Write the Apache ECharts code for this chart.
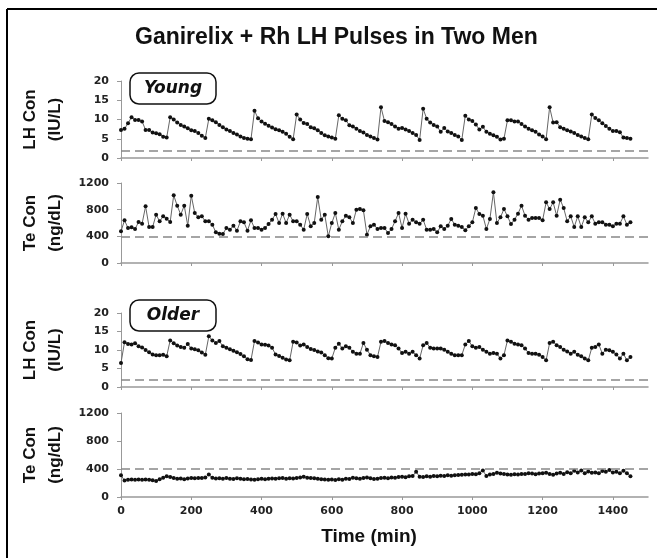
<!DOCTYPE html>
<html>
<head>
<meta charset="utf-8">
<script src="https://cdn.jsdelivr.net/npm/echarts@6/dist/echarts.min.js"></script>
<style>
  html, body { margin: 0; padding: 0; background: #fff; }
  #chart { width: 657px; height: 558px; }
</style>
</head>
<body>
<div id="chart"></div>
<script>
// sampling times (min)
var times = [
  0, 10, 20, 30, 40, 50, 60, 70, 80, 90,
  100, 110, 120, 130, 140, 150, 160, 170, 180, 190,
  200, 210, 220, 230, 240, 250, 260, 270, 280, 290,
  300, 310, 320, 330, 340, 350, 360, 370, 380, 390,
  400, 410, 420, 430, 440, 450, 460, 470, 480, 490,
  500, 510, 520, 530, 540, 550, 560, 570, 580, 590,
  600, 610, 620, 630, 640, 650, 660, 670, 680, 690,
  700, 710, 720, 730, 740, 750, 760, 770, 780, 790,
  800, 810, 820, 830, 840, 850, 860, 870, 880, 890,
  900, 910, 920, 930, 940, 950, 960, 970, 980, 990,
  1000, 1010, 1020, 1030, 1040, 1050, 1060, 1070, 1080, 1090,
  1100, 1110, 1120, 1130, 1140, 1150, 1160, 1170, 1180, 1190,
  1200, 1210, 1220, 1230, 1240, 1250, 1260, 1270, 1280, 1290,
  1300, 1310, 1320, 1330, 1340, 1350, 1360, 1370, 1380, 1390,
  1400, 1410, 1420, 1430, 1440, 1450
];

// young man, LH (IU/L)
var youngLH = [
  7.3, 7.6, 9.0, 10.6, 9.9, 9.9, 9.5, 7.3, 7.3, 6.6,
  6.4, 6.2, 5.5, 5.3, 10.6, 10.0, 9.2, 8.6, 8.2, 7.7,
  7.2, 7.0, 6.5, 5.8, 5.2, 10.2, 9.8, 9.3, 8.6, 8.0,
  7.4, 7.0, 6.5, 6.1, 5.6, 5.2, 5.0, 4.9, 12.3, 10.3,
  9.5, 8.9, 8.4, 7.9, 7.5, 7.2, 6.8, 6.3, 5.5, 4.9,
  11.3, 10.0, 9.1, 8.8, 8.0, 7.7, 7.2, 6.5, 5.9, 5.6,
  5.3, 5.0, 11.1, 10.2, 9.8, 8.5, 8.2, 7.6, 7.0, 6.6,
  6.0, 5.6, 5.2, 4.8, 13.2, 9.6, 9.3, 8.8, 8.2, 7.6,
  7.8, 7.4, 7.0, 6.5, 6.0, 4.7, 12.8, 10.2, 9.2, 8.6,
  8.2, 6.8, 7.8, 6.9, 6.5, 6.0, 5.6, 4.7, 11.0, 10.0,
  9.6, 8.7, 7.4, 8.1, 6.8, 6.3, 5.9, 5.5, 4.8, 5.0,
  9.8, 9.8, 9.5, 9.5, 8.8, 8.2, 7.6, 7.2, 6.8, 6.1,
  5.6, 4.9, 13.2, 9.2, 9.3, 8.0, 7.6, 7.2, 6.9, 6.5,
  6.0, 5.6, 5.2, 4.9, 11.3, 10.4, 9.8, 9.0, 8.3, 7.6,
  7.0, 7.0, 6.7, 5.3, 5.2, 5.0
];

// young man, Te (ng/dL)
var youngTe = [
  475, 640, 525, 535, 510, 615, 590, 850, 540, 540,
  725, 625, 700, 665, 615, 1015, 860, 725, 860, 560,
  1010, 750, 685, 700, 625, 625, 575, 460, 440, 435,
  525, 500, 560, 485, 625, 610, 485, 640, 525, 525,
  500, 525, 585, 650, 735, 600, 740, 600, 725, 625,
  625, 575, 500, 735, 550, 600, 990, 650, 725, 400,
  600, 750, 500, 625, 710, 685, 600, 800, 810, 790,
  425, 550, 575, 510, 525, 525, 450, 510, 625, 750,
  525, 740, 590, 650, 610, 590, 650, 500, 500, 510,
  460, 550, 510, 560, 660, 575, 560, 540, 490, 550,
  610, 825, 735, 710, 510, 660, 1060, 600, 685, 810,
  700, 585, 650, 740, 860, 710, 650, 675, 675, 675,
  640, 910, 810, 910, 710, 950, 825, 625, 700, 540,
  700, 540, 685, 610, 700, 590, 610, 610, 575, 575,
  550, 590, 590, 700, 575, 610
];

// older man, LH (IU/L)
var olderLH = [
  6.5, 12.1, 11.6, 11.5, 11.8, 11.0, 10.7, 10.0, 9.4, 8.8,
  8.6, 8.6, 8.7, 8.3, 12.6, 11.8, 11.2, 10.8, 10.6, 11.6,
  10.4, 10.2, 9.9, 9.3, 8.7, 13.7, 12.6, 11.9, 12.4, 11.0,
  10.6, 10.2, 9.8, 9.4, 8.9, 8.3, 7.5, 7.3, 12.4, 12.0,
  11.5, 11.4, 11.2, 10.6, 8.8, 8.4, 7.9, 7.4, 7.2, 12.2,
  12.0, 11.2, 11.5, 10.8, 10.3, 10.0, 9.6, 9.3, 8.6, 7.8,
  7.7, 10.6, 11.7, 10.4, 11.0, 10.6, 9.5, 9.0, 9.0, 11.9,
  10.1, 8.6, 8.3, 8.1, 12.2, 12.4, 11.9, 11.5, 11.3, 10.4,
  9.2, 9.5, 9.0, 9.5, 8.6, 7.7, 11.3, 11.9, 10.6, 10.4,
  10.4, 10.4, 10.1, 9.5, 9.0, 8.6, 8.6, 8.6, 11.5, 12.4,
  11.0, 10.6, 10.8, 10.1, 9.5, 9.0, 9.2, 9.0, 7.7, 8.6,
  12.6, 12.2, 11.7, 11.5, 11.3, 10.4, 9.2, 9.0, 9.0, 8.7,
  8.1, 7.2, 11.9, 12.2, 11.3, 10.8, 10.1, 9.6, 9.0, 9.5,
  8.7, 8.3, 7.7, 7.2, 10.6, 10.8, 11.5, 9.0, 10.1, 9.9,
  9.5, 8.8, 7.7, 9.0, 7.2, 8.1
];

// older man, Te (ng/dL)
var olderTe = [
  310, 235, 245, 250, 245, 250, 245, 250, 245, 240,
  230, 255, 275, 295, 285, 270, 260, 265, 255, 265,
  270, 268, 272, 270, 280, 320, 275, 265, 268, 262,
  270, 262, 258, 268, 262, 255, 258, 250, 245, 252,
  260, 255, 262, 265, 260, 268, 270, 262, 268, 265,
  272, 280, 290, 275, 270, 268, 262, 255, 250, 245,
  250, 242, 255, 248, 262, 258, 275, 268, 260, 272,
  280, 268, 258, 262, 270, 275, 268, 278, 275, 285,
  290, 282, 295, 300, 360, 290, 285, 295, 290, 300,
  298, 305, 300, 310, 305, 312, 315, 318, 322, 320,
  330, 325, 340, 380, 300, 320, 330, 345, 335, 330,
  322, 318, 325, 320, 330, 328, 340, 335, 325, 335,
  340, 345, 330, 318, 335, 345, 330, 355, 340, 375,
  350, 380, 340, 365, 345, 350, 340, 370, 360, 385,
  350, 360, 340, 375, 340, 295
];

var timeTicks = [0, 200, 400, 600, 800, 1000, 1200, 1400];
var panelNames = ['LH Con\n(IU/L)', 'Te Con\n(ng/dL)', 'LH Con\n(IU/L)', 'Te Con\n(ng/dL)'];
var refLevels = [2, 400, 2, 400];   // dashed reference lines
var boxLabels = ['Young', 'Older'];

var chart = echarts.init(document.getElementById('chart'));

var seriesData = [youngLH, youngTe, olderLH, olderTe];
var grids = [
  { left: 121, right: 9, top: 81, height: 77 },
  { left: 121, right: 9, top: 183, height: 80 },
  { left: 121, right: 9, top: 313, height: 74 },
  { left: 121, right: 9, top: 413, height: 84 }
];

var plainNum = function (v) { return String(v); };
var tickFont = { fontFamily: 'DejaVu Sans', fontWeight: 'bold', fontSize: 11, color: '#222', formatter: plainNum };
var axisGrey = '#999';

var xAxes = [], yAxes = [], series = [];
for (var i = 0; i < 4; i++) {
  var isLH = (i % 2 === 0);
  xAxes.push({
    type: 'value', gridIndex: i, min: 0, max: 1500,
    axisLine: { lineStyle: { color: axisGrey, width: 1.5 } },
    axisTick: { show: true, length: 3, customValues: timeTicks, lineStyle: { color: axisGrey } },
    axisLabel: i < 3 ? { show: false } : Object.assign({ customValues: timeTicks, margin: 9 }, tickFont),
    splitLine: { show: false }
  });
  yAxes.push({
    type: 'value', gridIndex: i, min: 0,
    max: isLH ? 20 : 1200,
    interval: isLH ? 5 : 400,
    name: panelNames[i],
    nameLocation: 'middle',
    nameRotate: 90,
    nameGap: 53,
    nameTextStyle: { fontFamily: 'Liberation Sans', fontWeight: 'bold', fontSize: 17, lineHeight: 25, color: '#111' },
    axisLine: { show: true, lineStyle: { color: axisGrey, width: 1 } },
    axisTick: { show: true, length: 4, lineStyle: { color: axisGrey } },
    axisLabel: Object.assign({ margin: 12 }, tickFont),
    splitLine: { show: false }
  });
  var pts = [];
  for (var j = 0; j < times.length; j++) pts.push([times[j], seriesData[i][j]]);
  series.push({
    type: 'line', xAxisIndex: i, yAxisIndex: i, data: pts,
    symbol: 'circle', symbolSize: 4, showSymbol: true,
    itemStyle: { color: '#111' },
    lineStyle: { color: '#666', width: 1 },
    markLine: {
      silent: true, symbol: 'none', label: { show: false },
      lineStyle: { color: '#888', type: [9, 5], width: 1.5 },
      data: [{ yAxis: refLevels[i] }]
    }
  });
}

var boxGraphics = [];
var boxTops = [73, 300];
for (var k = 0; k < 2; k++) {
  boxGraphics.push({
    type: 'rect', z: 100,
    shape: { x: 130, y: boxTops[k], width: 86, height: 31, r: 9 },
    style: { fill: '#fff', stroke: '#111', lineWidth: 1.5 }
  });
  boxGraphics.push({
    type: 'text', z: 101, x: 173, y: boxTops[k] + 16,
    style: {
      text: boxLabels[k], font: 'italic bold 17px "DejaVu Sans"', fill: '#111',
      textAlign: 'center', textVerticalAlign: 'middle'
    }
  });
}

var option = {
  animation: false,
  backgroundColor: '#fff',
  title: {
    text: 'Ganirelix + Rh LH Pulses in Two Men',
    left: 135, top: 26, padding: 0,
    textStyle: { fontFamily: 'Liberation Sans', fontWeight: 'bold', fontSize: 23, color: '#111' }
  },
  grid: grids,
  xAxis: xAxes,
  yAxis: yAxes,
  series: series,
  graphic: boxGraphics.concat([
    { type: 'line', shape: { x1: 7, y1: 9, x2: 657, y2: 9 }, style: { stroke: '#000', lineWidth: 2 } },
    { type: 'line', shape: { x1: 7, y1: 9, x2: 7, y2: 558 }, style: { stroke: '#000', lineWidth: 2 } },
    {
      type: 'text', x: 369, y: 537,
      style: {
        text: 'Time (min)', font: 'bold 19px "Liberation Sans"', fill: '#111',
        textAlign: 'center', textVerticalAlign: 'middle'
      }
    }
  ])
};

chart.setOption(option);
</script>
</body>
</html>
